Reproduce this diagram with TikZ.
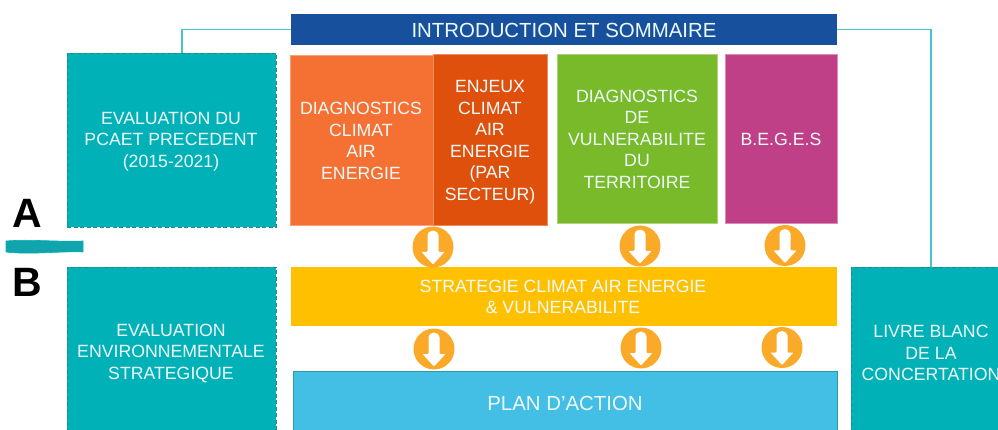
\documentclass[tikz,border=0pt]{standalone}
\usepackage{fontspec}
\setmainfont{Liberation Sans}
\usetikzlibrary{positioning}
\definecolor{teal0}{HTML}{00B2B8}
\definecolor{tealdark}{HTML}{23898F}
\definecolor{tealline}{HTML}{45C6CC}
\definecolor{introblue}{HTML}{17519D}
\definecolor{orange0}{HTML}{F57133}
\definecolor{orange0b}{HTML}{F9A07A}
\definecolor{orange1}{HTML}{E0500D}
\definecolor{orange1b}{HTML}{EE8A5C}
\definecolor{green0}{HTML}{78BA2A}
\definecolor{green0b}{HTML}{AAD37A}
\definecolor{pink0}{HTML}{C04087}
\definecolor{pink0b}{HTML}{DB8DB8}
\definecolor{yellow0}{HTML}{FFC000}
\definecolor{plan0}{HTML}{43BEE5}
\definecolor{plantop}{HTML}{2A9DA3}
\definecolor{round0}{HTML}{FBA928}
\definecolor{txt}{HTML}{EEFAFA}
\definecolor{wave}{HTML}{10A5AC}
\tikzset{
  x=1pt,y=-1pt,
  boxed/.style={anchor=north west,inner sep=0pt,outer sep=0pt},
  sidebox/.style={boxed,fill=teal0,draw=tealdark,line width=.9pt,dash pattern=on 4pt off 2.5pt},
  label/.style={text=txt,align=center,inner sep=0pt,font=\fontsize{17.7}{21.5}\selectfont},
  biglabel/.style={label,font=\fontsize{20.4}{24}\selectfont},
  letter/.style={text=black,inner sep=0pt,font=\fontsize{41}{41}\selectfont\bfseries},
  link/.style={draw=tealline,line width=1.1pt},
  roundel/.style={circle,fill=round0,minimum size=41pt,inner sep=0pt,outer sep=0pt},
}
% name, x, y : orange disc with a white down arrow
\newcommand{\roundarrow}[3]{%
  \node[roundel] (#1) at (#2,#3) {};
  \fill[white,rounded corners=0.8pt] ([shift={(-5.5,5)}]#1.center)
    -- ([shift={(-5.5,-11)}]#1.center)
    arc[start angle=180,end angle=0,x radius=5.5,y radius=-5.5]
    -- ([shift={(5.5,5)}]#1.center)
    -- ([shift={(11.5,5)}]#1.center)
    -- ([shift={(0,17.5)}]#1.center)
    -- ([shift={(-11.5,5)}]#1.center) -- cycle;
}
\begin{document}
\begin{tikzpicture}
\useasboundingbox (0,0) rectangle (998,430);
\clip (0,0) rectangle (998,430);
\fill[white] (0,0) rectangle (998,430);

% boxes
\node[boxed,fill=introblue,minimum width=546pt,minimum height=31pt] (intro) at (291,14) {};
\node[sidebox,minimum width=209pt,minimum height=174pt] (evalA) at (67,53) {};
\node[sidebox,minimum width=209pt,minimum height=175pt] (evalB) at (67,267) {};
\node[sidebox,minimum width=160pt,minimum height=175pt] (livre) at (851,267) {};
\node[boxed,fill=orange0,draw=orange0b,line width=.7pt,minimum width=143pt,minimum height=169.5pt] (diag) at (290.5,55.5) {};
\node[boxed,fill=orange1,draw=orange1b,line width=.7pt,minimum width=114pt,minimum height=170.5pt] (enjeux) at (433.5,54.5) {};
\node[boxed,fill=green0,draw=green0b,line width=.7pt,minimum width=160.5pt,minimum height=169.5pt] (vuln) at (557,54) {};
\node[boxed,fill=pink0,draw=pink0b,line width=.7pt,minimum width=112pt,minimum height=169.5pt] (beges) at (725.5,54) {};
\node[boxed,fill=yellow0,minimum width=546pt,minimum height=59pt] (strat) at (291,267) {};
\node[boxed,fill=plan0,draw=plantop,line width=1pt,minimum width=544pt,minimum height=80pt] (plan) at (293,371) {};

% connectors
\coordinate (evalAtop) at (182,53);
\coordinate (livretop) at (931,267);
\draw[link] (intro.west) -| (evalAtop);
\draw[link] (intro.east) -| (livretop);

% labels
\node[biglabel] (tintro) at (564,30) {INTRODUCTION ET SOMMAIRE};
\node[label] (tevalA) at (171,141.5) {EVALUATION DU\\PCAET PRECEDENT\\(2015-2021)};
\node[label] (tevalB) at (171,353) {EVALUATION\\ENVIRONNEMENTALE\\STRATEGIQUE};
\node[label] (tlivre) at (931,353) {LIVRE BLANC\\DE LA\\CONCERTATION};
\node[label] (tdiag) at (361,141) {DIAGNOSTICS\\CLIMAT\\AIR\\ENERGIE};
\node[label] (tenjeux) at (490,142) {ENJEUX\\CLIMAT\\AIR\\ENERGIE\\(PAR\\SECTEUR)};
\node[label] (tvuln) at (637,139) {DIAGNOSTICS\\DE\\VULNERABILITE\\DU\\TERRITOIRE};
\node[label] (tbeges) at (781,139) {B.E.G.E.S};
\node[label] (tstrat) at (563,297) {STRATEGIE CLIMAT AIR ENERGIE\\\& VULNERABILITE};
\node[biglabel] (tplan) at (565,403) {PLAN D’ACTION};

% round arrows
\roundarrow{a1}{433}{247}
\roundarrow{a2}{640}{246}
\roundarrow{a3}{785}{245.5}
\roundarrow{b1}{434}{349}
\roundarrow{b2}{641}{348}
\roundarrow{b3}{782}{347.5}

% A / B
\node[letter] (lA) at (27,213.5) {A};
\node[letter] (lB) at (27,282) {B};
\fill[wave,draw=teal0,line width=.6pt] (6,241) .. controls (30,239) and (55,242) .. (83,241) -- (83,252) .. controls (60,251) and (30,255) .. (6,252) -- cycle;
\end{tikzpicture}
\end{document}
